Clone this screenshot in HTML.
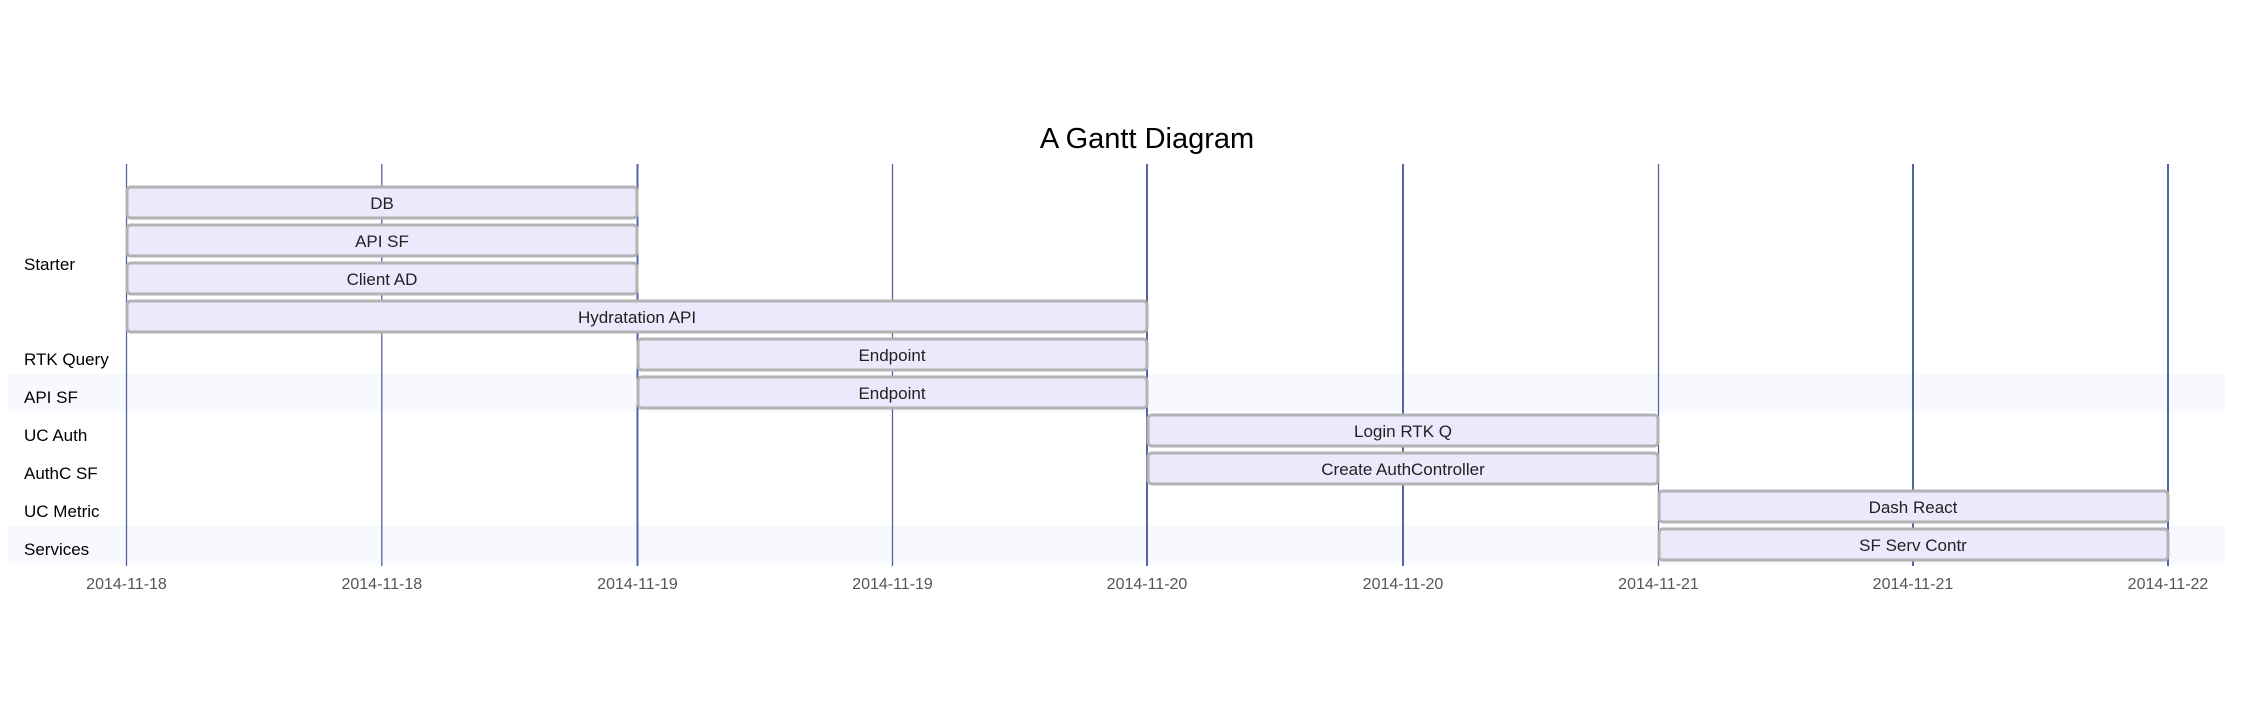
<!DOCTYPE html>
<html><head><meta charset="utf-8"><style>
html,body{margin:0;padding:0;background:#fff;}
svg{display:block;}
text{font-family:"Liberation Sans",sans-serif;}
</style></head><body>
<svg width="2254" height="706" viewBox="0 0 2254 706" xmlns="http://www.w3.org/2000/svg">
<rect width="2254" height="706" fill="#fff"/>
<rect x="8" y="374" width="2217" height="38" fill="#f8f8ff"/>
<rect x="8" y="526" width="2217" height="38" fill="#f8f8ff"/>
<g stroke="#5366a2" stroke-width="1.3">
<line x1="126.5" y1="164" x2="126.5" y2="566"/>
<line x1="381.8" y1="164" x2="381.8" y2="566"/>
<line x1="637.5" y1="164" x2="637.5" y2="566" stroke-width="2"/>
<line x1="892.5" y1="164" x2="892.5" y2="566"/>
<line x1="1147" y1="164" x2="1147" y2="566" stroke-width="2"/>
<line x1="1403" y1="164" x2="1403" y2="566" stroke-width="2"/>
<line x1="1658.5" y1="164" x2="1658.5" y2="566"/>
<line x1="1913" y1="164" x2="1913" y2="566" stroke-width="2"/>
<line x1="2168" y1="164" x2="2168" y2="566" stroke-width="2"/>
</g>
<g font-size="16" fill="#555" text-anchor="middle">
<text x="126.5" y="589">2014-11-18</text>
<text x="381.8" y="589">2014-11-18</text>
<text x="637.5" y="589">2014-11-19</text>
<text x="892.5" y="589">2014-11-19</text>
<text x="1147" y="589">2014-11-20</text>
<text x="1403" y="589">2014-11-20</text>
<text x="1658.5" y="589">2014-11-21</text>
<text x="1913" y="589">2014-11-21</text>
<text x="2168" y="589">2014-11-22</text>
</g>
<text x="1147" y="148" font-size="29" fill="#000" text-anchor="middle">A Gantt Diagram</text>
<g font-size="17" fill="#000">
<text x="24" y="270">Starter</text>
<text x="24" y="365">RTK Query</text>
<text x="24" y="403">API SF</text>
<text x="24" y="441">UC Auth</text>
<text x="24" y="479">AuthC SF</text>
<text x="24" y="517">UC Metric</text>
<text x="24" y="555">Services</text>
</g>
<g fill="#eaeafc" stroke="#b3b3b3" stroke-width="3">
<rect x="127" y="187" width="510" height="31" rx="4"/>
<rect x="127" y="225" width="510" height="31" rx="4"/>
<rect x="127" y="263" width="510" height="31" rx="4"/>
<rect x="127" y="301" width="1020" height="31" rx="4"/>
<rect x="638" y="339" width="509" height="31" rx="4"/>
<rect x="638" y="377" width="509" height="31" rx="4"/>
<rect x="1148" y="415" width="510" height="31" rx="4"/>
<rect x="1148" y="453" width="510" height="31" rx="4"/>
<rect x="1659" y="491" width="509" height="31" rx="4"/>
<rect x="1659" y="529" width="509" height="31" rx="4"/>
</g>
<g font-size="17" fill="#222" text-anchor="middle">
<text x="382" y="209">DB</text>
<text x="382" y="247">API SF</text>
<text x="382" y="285">Client AD</text>
<text x="637" y="323">Hydratation API</text>
<text x="892" y="361">Endpoint</text>
<text x="892" y="399">Endpoint</text>
<text x="1403" y="437">Login RTK Q</text>
<text x="1403" y="475">Create AuthController</text>
<text x="1913" y="513">Dash React</text>
<text x="1913" y="551">SF Serv Contr</text>
</g>
</svg>
</body></html>
